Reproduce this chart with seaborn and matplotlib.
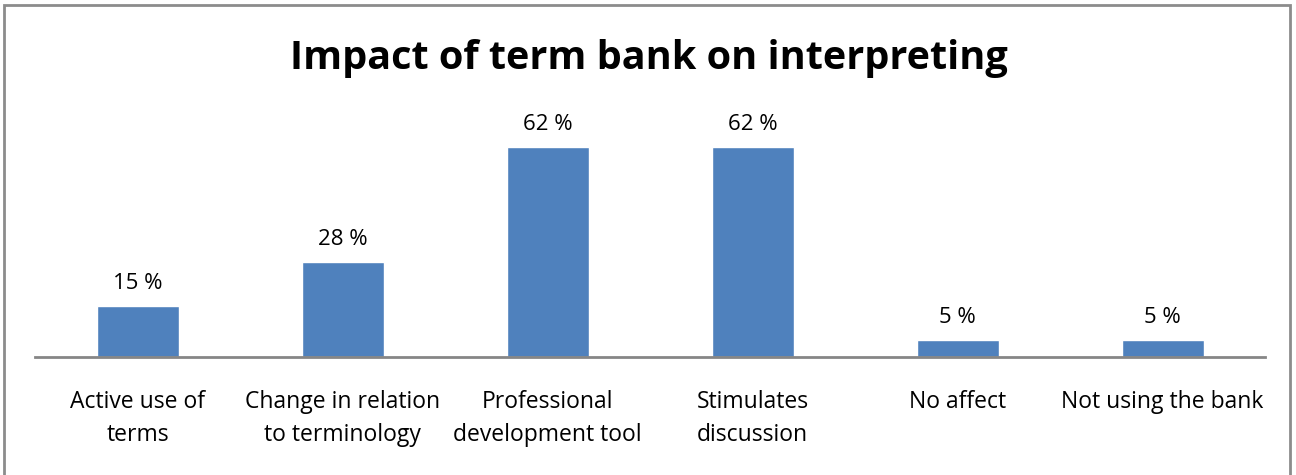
import matplotlib
matplotlib.use("Agg")
import matplotlib.pyplot as plt
import seaborn as sns
import pandas as pd
from matplotlib.patches import Rectangle

# Data
categories = ["Active use of\nterms", "Change in relation\nto terminology",
              "Professional\ndevelopment tool", "Stimulates\ndiscussion",
              "No affect", "Not using the bank"]
percents = [15, 28, 62, 62, 5, 5]
value_labels = ["15 %", "28 %", "62 %", "62 %", "5 %", "5 %"]

df = pd.DataFrame({"category": categories, "percent": percents})

sns.set_style("white")
plt.rcParams["font.family"] = ["Open Sans", "DejaVu Sans"]

fig = plt.figure(figsize=(12.96, 4.75), dpi=100)
ax = fig.add_axes([35 / 1296, (475 - 357) / 475, 1230 / 1296, 237 / 475])

sns.barplot(data=df, x="category", y="percent", color="#4F81BD",
            width=0.4, saturation=1, ax=ax)

ax.set_ylim(0, 70)
ax.set_xlim(-0.5, len(categories) - 0.5)
for s in ["top", "right", "left"]:
    ax.spines[s].set_visible(False)
ax.spines["bottom"].set_color("#868686")
ax.spines["bottom"].set_linewidth(2)
ax.set_yticks([])
ax.set_xlabel("")
ax.set_ylabel("")
ax.tick_params(axis="x", length=0, pad=24, labelsize=16.5, labelcolor="black")
for lbl in ax.get_xticklabels():
    lbl.set_linespacing(1.5)

for i, (v, t) in enumerate(zip(percents, value_labels)):
    ax.annotate(t, (i, v), xytext=(0, 9), textcoords="offset points",
                ha="center", va="bottom", fontsize=16, color="black")

fig.text(649 / 1296, 1 - 58 / 475, "Impact of term bank on interpreting",
         ha="center", va="center", fontsize=28.5, fontweight="bold", color="black")

# light grey frame around the chart
fig.patches.append(Rectangle((4 / 1296, -0.05), 1286 / 1296, 1 - 5 / 475 + 0.05,
                             transform=fig.transFigure, fill=False,
                             edgecolor="#8c8c8c", linewidth=2))

plt.savefig("out.png", dpi=100)
